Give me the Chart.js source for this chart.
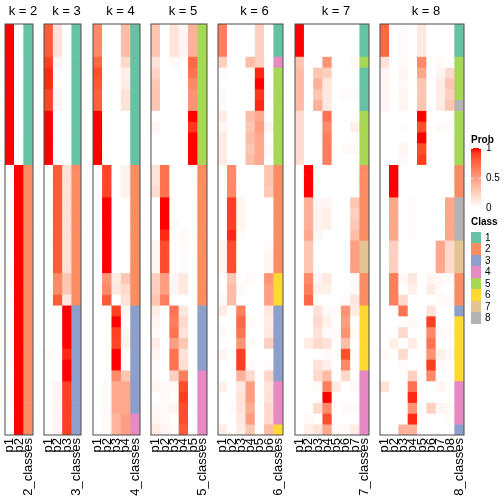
<!DOCTYPE html>
<html>
<head>
<meta charset="utf-8">
<script src="https://cdn.jsdelivr.net/npm/chart.js@4.4.0/dist/chart.umd.min.js"></script>
<style>
html, body { margin: 0; padding: 0; background: #fff; }
#wrap { position: relative; width: 504px; height: 504px; overflow: hidden; font-family: "Liberation Sans", Arial, sans-serif; }
#wrap canvas { position: absolute; top: 0; }
.lg { position: absolute; font-size: 10px; line-height: 12px; color: #000; white-space: nowrap; }
.lgt { font-weight: bold; }
.box { position: absolute; }
</style>
</head>
<body>
<div id="wrap"></div>
<script>
// ---------- data ----------
const kValues = [2, 3, 4, 5, 6, 7, 8];
const classLabels = ["1", "2", "3", "4", "5", "6", "7", "8"];
const classColors = ["#66C2A5", "#FC8D62", "#8DA0CB", "#E78AC3", "#A6D854", "#FFD92F", "#E5C494", "#B3B3B3"];
const probTicks = ["1", "0.5", "0"];

const probK2 = [
  [1,0],[1,0],[1,0],[1,0],[1,0],[1,0],[1,0],[1,0],[1,0],[1,0],[1,0],[1,0],[1,0],
  [0,1],[0,1],[0,1],[0,1],[0,1],[0,1],[0,1],[0,1],[0,1],[0,1],[0,1],[0,1],[0,1],
  [0,1],[0,1],[0,1],[0,1],[0,1],[0,1],[0,1],[0,1],[0,1],[0,1],[0,1],[0,1]
];
const classK2 = [1,1,1,1,1,1,1,1,1,1,1,1,1, 2,2,2,2,2,2,2,2,2,2,2,2,2, 2,2,2,2,2,2,2,2,2,2,2,2];

const probK3 = [
  [0.8,0.15,0],[0.8,0.15,0],[0.8,0.15,0],
  [0.9,0.05,0],[0.95,0.02,0],[0.95,0.02,0],[0.88,0.05,0],[0.88,0.05,0],
  [1,0,0],[1,0,0],[1,0,0],[1,0,0],[1,0,0],
  [0,0.8,0.15],[0,0.8,0.15],[0,0.8,0.15],[0,0.8,0.15],[0,0.8,0.15],
  [0,0.8,0.15],[0,0.8,0.15],[0,0.8,0.15],[0,0.8,0.15],[0,0.8,0.15],
  [0,0.6,0.3],[0,0.6,0.3],[0,0.8,0.12],
  [0,0,1],[0,0,1],[0,0,1],[0,0,1],[0.03,0,0.95],[0,0,1],[0,0,1],
  [0,0.05,0.9],[0,0.05,0.9],[0,0.05,0.9],[0,0.05,0.9],[0,0.05,0.9]
];
const classK3 = [1,1,1,1,1,1,1,1,1,1,1,1,1, 2,2,2,2,2,2,2,2,2,2,2,2,2, 3,3,3,3,3,3,3,3,3,3,3,3];

const probK4 = [
  [0.6,0,0,0.35],[0.6,0,0,0.35],[0.6,0,0,0.35],
  [0.75,0,0,0.2],[0.85,0,0,0.08],[0.82,0,0,0.1],[0.78,0,0,0.15],[0.78,0,0,0.15],
  [1,0,0,0],[1,0,0,0],[1,0,0,0],[1,0,0,0],[1,0,0,0],
  [0,0.88,0,0.07],[0,0.88,0,0.07],[0,0.88,0,0.07],
  [0,1,0,0],[0,1,0,0],[0,1,0,0],[0,1,0,0],[0,1,0,0],[0,1,0,0],[0,1,0,0],
  [0,0.55,0.1,0.3],[0,0.6,0.12,0.2],[0,0.8,0,0.15],
  [0,0,0.9,0.05],[0,0,1,0],[0,0,0.9,0.05],[0,0,0.88,0.07],[0,0,1,0],[0,0,1,0],[0,0,0.6,0.3],
  [0,0.02,0.45,0.45],[0,0.02,0.45,0.45],[0,0.02,0.45,0.45],
  [0,0.03,0.38,0.5],[0,0.03,0.38,0.5]
];
const classK4 = [1,1,1,1,1,1,1,1,1,1,1,1,1, 2,2,2,2,2,2,2,2,2,2,2,2,2, 3,3,3,3,3,3,3,3,3,3, 4,4];

const probK5 = [
  [0.3,0,0.15,0.05,0.4],[0.3,0,0.15,0.05,0.4],[0.3,0,0.15,0.05,0.4],
  [0.15,0,0.03,0,0.75],[0.22,0,0,0,0.7],[0.28,0,0,0,0.6],[0.3,0,0,0,0.55],[0.3,0,0,0,0.55],
  [0,0,0,0,1],[0.05,0,0,0,0.92],[0,0,0,0,1],[0,0,0,0,1],[0,0,0,0,1],
  [0.15,0.7,0,0,0],[0.15,0.7,0,0,0],[0.18,0.7,0,0,0],
  [0,1,0,0,0],[0,1,0,0,0],[0,1,0.02,0,0],[0,0.95,0,0.03,0],
  [0.05,0.85,0,0.02,0],[0.05,0.85,0,0.02,0],[0.05,0.85,0,0.02,0],
  [0.25,0.5,0.05,0.12,0],[0.25,0.5,0.05,0.12,0],[0.3,0.65,0,0,0],
  [0.1,0,0.7,0.12,0],[0.05,0,0.65,0.2,0],[0.03,0,0.7,0.15,0],[0.1,0,0.5,0.3,0],[0.05,0,0.7,0.15,0],[0.02,0,0.7,0.18,0],
  [0.02,0,0.25,0.65,0],[0.05,0.03,0.03,0.85,0],[0,0.03,0,0.9,0],[0.03,0.03,0.05,0.85,0],[0.05,0.03,0,0.85,0],[0.1,0.05,0.02,0.8,0]
];
const classK5 = [5,5,5,5,5,5,5,5,5,5,5,5,5, 2,2,2,2,2,2,2,2,2,2,2,2,2, 3,3,3,3,3,3, 4,4,4,4,4,4];

const probK6 = [
  [0.65,0,0,0,0.25,0],[0.65,0,0,0,0.25,0],[0.65,0,0,0,0.25,0],
  [0.25,0,0,0.35,0.25,0],
  [0.02,0,0,0,0.95,0],[0,0,0,0,1,0],[0.03,0,0,0,0.92,0.02],[0.03,0,0,0,0.95,0],
  [0.1,0,0,0.35,0.45,0],[0.05,0,0,0.3,0.5,0.04],[0.1,0,0,0.35,0.45,0],[0.1,0,0,0.3,0.45,0.03],[0.1,0,0,0.35,0.45,0],
  [0,0.6,0,0,0,0.3],[0,0.6,0,0,0,0.3],[0,0.6,0,0,0,0.28],
  [0,0.9,0.05,0,0,0],[0,0.9,0.05,0,0,0],[0,0.9,0.05,0,0,0],[0,0.95,0.02,0,0,0],
  [0.05,0.85,0,0,0,0.02],[0.05,0.85,0,0,0,0.05],[0.05,0.85,0,0,0,0.05],
  [0,0.3,0,0.03,0,0.55],[0,0.35,0.03,0,0,0.5],[0.03,0.35,0,0,0,0.5],
  [0.1,0,0.65,0,0,0.12],[0,0,0.75,0.03,0,0.1],[0.03,0,0.7,0,0,0.12],[0,0,0.55,0.03,0,0.25],
  [0.05,0,0.9,0,0,0],[0,0,0.9,0.02,0,0.02],[0,0,0.4,0.2,0,0.22],
  [0.08,0,0.12,0.5,0,0.15],[0,0,0.15,0.5,0,0.15],[0,0.02,0.15,0.42,0,0.2],[0,0,0.12,0.5,0,0.2],
  [0.1,0,0.1,0.3,0,0.35]
];
const classK6 = [1,1,1,4, 5,5,5,5,5,5,5,5,5, 2,2,2,2,2,2,2,2,2,2, 6,6,6, 3,3,3,3,3,3,3, 4,4,4,4, 6];

const probK7 = [
  [1,0,0,0,0,0,0],[1,0,0,0,0,0,0],[1,0,0,0,0,0,0],
  [0.3,0,0,0.55,0,0,0.03],
  [0.35,0,0.3,0.25,0,0,0],[0.35,0,0.4,0.12,0,0,0],[0.35,0,0.3,0.12,0,0.02,0.03],[0.35,0,0.4,0.12,0,0,0],
  [0.18,0,0,0.7,0,0,0],[0.18,0,0,0.6,0,0,0.08],[0.18,0,0,0.65,0,0,0],[0.18,0,0,0.65,0,0.03,0.03],[0.18,0,0,0.65,0,0,0],
  [0,1,0,0,0,0,0],[0,1,0,0,0,0,0],[0,1,0,0,0,0,0],
  [0,0.4,0.04,0.05,0,0,0.3],[0,0.4,0.06,0.08,0,0,0.25],[0,0.4,0.06,0.08,0,0,0.28],[0,0.45,0.04,0,0,0,0.35],
  [0,0.3,0,0,0,0,0.5],[0,0.3,0,0,0,0,0.5],[0,0.3,0,0,0,0,0.5],
  [0,0.6,0.05,0.12,0,0,0.03],[0,0.65,0.08,0.08,0,0,0.03],[0,0.75,0,0,0,0.02,0.12],
  [0,0,0.15,0.03,0.02,0.55,0.1],[0,0,0.2,0.08,0,0.5,0],[0,0,0.15,0.02,0.02,0.55,0.03],
  [0,0.1,0.2,0.15,0,0.35,0],[0,0,0,0.03,0.02,0.85,0.02],[0,0,0.15,0.08,0,0.6,0],
  [0,0,0.2,0.35,0,0.2,0],[0,0,0.03,0.65,0.1,0,0.03],[0,0,0,1,0,0,0],
  [0,0,0.2,0.6,0,0.03,0.03],[0,0.03,0,0.85,0,0,0],[0,0.08,0.15,0.45,0.03,0.03,0.1]
];
const classK7 = [1,1,1,5,1,1,1,1,5,5,5,5,5, 2,2,2,2,2,2,2, 7,7,7, 2,2,2, 6,6,6,6,6,6, 4,4,4,4,4,4];

const probK8 = [
  [0.75,0,0.02,0,0.12,0,0,0],[0.75,0,0.02,0,0.12,0,0,0],[0.75,0,0.02,0,0.12,0,0,0],
  [0.15,0,0.03,0,0.6,0,0.03,0],
  [0.05,0,0.05,0,0.45,0,0.05,0.2],[0.05,0,0.03,0,0.3,0,0.1,0.3],[0.05,0,0.05,0,0.3,0,0.1,0.25],[0.05,0,0.05,0,0.3,0,0.1,0.3],
  [0,0,0,0,1,0,0,0],[0,0,0.02,0,0.85,0,0.03,0.02],[0,0,0,0,1,0,0,0],[0,0,0.05,0,0.85,0,0,0],[0,0,0.02,0,0.9,0,0,0],
  [0,1,0,0,0,0,0,0],[0,1,0,0,0,0,0,0],[0,1,0,0,0,0,0,0],
  [0,0.45,0,0.02,0,0,0,0.45],[0,0.45,0,0.02,0,0,0,0.45],[0,0.45,0,0.02,0,0,0,0.45],[0,0.45,0,0.02,0,0,0,0.45],
  [0,0.25,0,0,0,0,0.45,0.2],[0,0.25,0,0,0,0,0.45,0.2],[0,0.25,0,0,0,0,0.45,0.2],
  [0,0.65,0.03,0.12,0,0.05,0.03,0.03],[0,0.65,0,0.08,0,0.1,0.02,0],[0,0.65,0.2,0,0,0,0.03,0.03],
  [0,0,0.7,0,0,0.15,0,0],
  [0,0,0,0.03,0,0.9,0,0],[0,0,0.2,0,0,0.6,0.03,0.02],[0,0.08,0,0.1,0,0.7,0,0],
  [0.03,0,0.2,0,0,0.55,0.08,0.03],[0,0,0.02,0,0,0.9,0.03,0],[0,0,0,0.25,0,0.6,0,0],
  [0.15,0,0,0.7,0,0,0.05,0],[0,0,0,0.95,0,0,0,0],[0,0,0,0.55,0,0.25,0.05,0.03],[0,0,0,0.95,0,0,0,0.02],
  [0,0,0.4,0.4,0,0,0,0]
];
const classK8 = [1,1,1,5,5,5,5,8,5,5,5,5,5, 2,2,2, 8,8,8,8, 7,7,7, 2,2,2, 3, 6,6,6,6,6,6, 4,4,4,4, 3];

const probTables = [probK2, probK3, probK4, probK5, probK6, probK7, probK8];
const classTables = [classK2, classK3, classK4, classK5, classK6, classK7, classK8];

// ---------- layout ----------
const panelLefts = [5, 44, 93, 151, 218, 295, 380];
const panelWidths = [28, 37, 47, 56, 65, 74, 84];
const padL = 6, padR = 14;   // titles sit a little left of the panel centre
const FONT = "'Liberation Sans', Arial, sans-serif";

// ---------- colour ramp white -> red, interpolated in LAB ----------
function toLin(c) { c /= 255; return c <= 0.04045 ? c / 12.92 : Math.pow((c + 0.055) / 1.055, 2.4); }
function toSrgb(c) {
  c = c <= 0.0031308 ? 12.92 * c : 1.055 * Math.pow(c, 1 / 2.4) - 0.055;
  return Math.round(Math.max(0, Math.min(1, c)) * 255);
}
function rgbToLab(rgb) {
  const [r, g, b] = rgb.map(toLin);
  const x = (0.4124 * r + 0.3576 * g + 0.1805 * b) / 0.95047;
  const y = 0.2126 * r + 0.7152 * g + 0.0722 * b;
  const z = (0.0193 * r + 0.1192 * g + 0.9505 * b) / 1.08883;
  const f = t => t > 0.008856 ? Math.cbrt(t) : 7.787 * t + 16 / 116;
  return [116 * f(y) - 16, 500 * (f(x) - f(y)), 200 * (f(y) - f(z))];
}
function labToRgb(lab) {
  const fy = (lab[0] + 16) / 116, fx = fy + lab[1] / 500, fz = fy - lab[2] / 200;
  const inv = t => t * t * t > 0.008856 ? t * t * t : (t - 16 / 116) / 7.787;
  const x = inv(fx) * 0.95047, y = inv(fy), z = inv(fz) * 1.08883;
  return [
    toSrgb(3.2406 * x - 1.5372 * y - 0.4986 * z),
    toSrgb(-0.9689 * x + 1.8758 * y + 0.0415 * z),
    toSrgb(0.0557 * x - 0.2040 * y + 1.0570 * z)
  ];
}
const labLow = rgbToLab([255, 255, 255]);
const labHigh = rgbToLab([255, 0, 0]);
function probColor(v) {
  const lab = labLow.map((l, i) => l + (labHigh[i] - l) * v);
  const c = labToRgb(lab);
  return "rgb(" + c.join(",") + ")";
}

// border round each heatmap body
const panelBorder = {
  id: "panelBorder",
  afterDatasetsDraw(chart) {
    const { ctx, chartArea: a } = chart;
    ctx.save();
    ctx.strokeStyle = "#4d4d4d";
    ctx.lineWidth = 1;
    ctx.strokeRect(a.left, a.top, a.right - a.left, a.bottom - a.top);
    ctx.restore();
  }
};

const wrap = document.getElementById("wrap");

kValues.forEach((k, i) => {
  const probs = probTables[i];
  const classes = classTables[i];
  const labels = [];
  for (let j = 1; j <= k; j++) labels.push("p" + j);
  labels.push(k + "_classes");

  // one stacked dataset per sample row, one unit tall
  const datasets = probs.map((row, r) => ({
    label: "sample " + (r + 1),
    data: labels.map(() => 1),
    backgroundColor: row.map(probColor).concat(classColors[classes[r] - 1]),
    borderWidth: 0,
    barPercentage: 1,
    categoryPercentage: 1
  }));

  const canvas = document.createElement("canvas");
  const w = panelWidths[i] + padL + padR;
  canvas.width = w;
  canvas.height = 504;
  canvas.style.width = w + "px";
  canvas.style.height = "504px";
  canvas.style.left = (panelLefts[i] - padL) + "px";
  wrap.appendChild(canvas);

  new Chart(canvas, {
    type: "bar",
    data: { labels: labels, datasets: datasets },
    options: {
      responsive: false,
      animation: false,
      events: [],
      layout: { padding: 0 },
      plugins: {
        legend: { display: false },
        tooltip: { enabled: false },
        title: {
          display: true,
          text: "k = " + k,
          color: "#000",
          font: { family: FONT, size: 13, weight: "normal", lineHeight: 1.2 },
          padding: { top: 4, bottom: 4.4 }
        }
      },
      scales: {
        x: {
          stacked: true,
          grid: { display: false, drawTicks: false },
          border: { display: false },
          ticks: {
            autoSkip: false,
            minRotation: 90,
            maxRotation: 90,
            padding: 3,
            color: "#000",
            font: { family: FONT, size: 13 }
          },
          afterFit(s) {
            s.height = 69;
            s.paddingLeft = padL;
            s.paddingRight = padR;
          }
        },
        y: {
          stacked: true,
          reverse: true,
          min: 0,
          max: probs.length,
          display: false
        }
      }
    },
    plugins: [panelBorder]
  });
});

// ---------- legends ----------
function addDiv(cls, left, top, text, style) {
  const d = document.createElement("div");
  d.className = cls;
  d.style.left = left + "px";
  d.style.top = top + "px";
  if (text !== null) d.textContent = text;
  Object.assign(d.style, style || {});
  wrap.appendChild(d);
  return d;
}

addDiv("lg lgt", 471, 134, "Prob");
const stops = [];
for (let s = 0; s <= 10; s++) stops.push(probColor(s / 10) + " " + (s * 10) + "%");
addDiv("box", 471, 148, null, { width: "10px", height: "60px", background: "linear-gradient(to top, " + stops.join(", ") + ")" });
probTicks.forEach((t, j) => {
  addDiv("lg", 486, 148 + j * 30 - 6, t);
  addDiv("box", 471, 148 + j * 30 - (j === 2 ? 1 : 0), null, { width: "2px", height: "1px", background: "#fff" });
  addDiv("box", 479, 148 + j * 30 - (j === 2 ? 1 : 0), null, { width: "2px", height: "1px", background: "#fff" });
});

addDiv("lg lgt", 471, 216, "Class");
classLabels.forEach((c, j) => {
  const top = 231.5 + j * 11.57;
  addDiv("box", 471, top, null, { width: "10px", height: "11.6px", background: classColors[j] });
  addDiv("lg", 485, top, c);
});
</script>
</body>
</html>
